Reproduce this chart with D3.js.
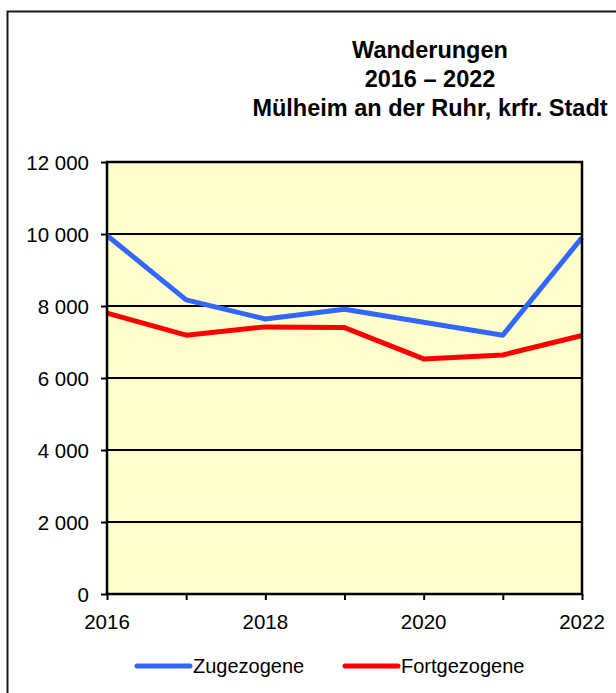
<!DOCTYPE html>
<html><head><meta charset="utf-8">
<script src="https://cdn.jsdelivr.net/npm/d3@7"></script>
<style>
html,body{margin:0;padding:0;background:#fff;}
svg{display:block;}
text{font-family:"Liberation Sans",Arial,sans-serif;fill:#000;}
</style></head>
<body>
<svg id="chart" width="616" height="693"></svg>
<script>
const years = [2016, 2017, 2018, 2019, 2020, 2021, 2022];
const zugezogene = [9960, 8170, 7640, 7910, 7550, 7190, 9900];
const fortgezogene = [7800, 7190, 7420, 7400, 6530, 6640, 7180];
const seriesNames = ["Zugezogene", "Fortgezogene"];
const seriesColors = ["#3366ff", "#ff0000"];
const yTicks = [0, 2000, 4000, 6000, 8000, 10000, 12000];
const xLabelYears = [2016, 2018, 2020, 2022];
const titleLines = ["Wanderungen", "2016 \u2013 2022", "Mülheim an der Ruhr, krfr. Stadt"];

const svg = d3.select("#chart");
const m = {left: 107, right: 582, top: 162, bottom: 594};

const x = d3.scaleLinear().domain([2016, 2022]).range([m.left, m.right]);
const y = d3.scaleLinear().domain([0, 12000]).range([m.bottom, m.top]);

function stext(g, tx, ty, str, anchor, size, weight) {
  return g.append("text")
    .attr("x", tx).attr("y", ty)
    .attr("text-anchor", anchor)
    .style("font-size", size + "px")
    .style("font-weight", weight || "normal")
    .text(str);
}

// outer frame
svg.append("rect").attr("x", 7.5).attr("y", 11.5).attr("width", 640).attr("height", 720)
  .attr("fill", "none").attr("stroke", "#1a1a1a").attr("stroke-width", 2);

// title
titleLines.forEach((t, i) => stext(svg, 430, 58 + i * 29, t, "middle", 23.5, "bold"));

// plot background
svg.append("rect").attr("x", m.left).attr("y", m.top)
  .attr("width", m.right - m.left).attr("height", m.bottom - m.top)
  .attr("fill", "#ffffcc");

// grid lines
svg.append("g").selectAll("line").data(yTicks.filter(d => d > 0 && d < 12000)).join("line")
  .attr("x1", m.left).attr("x2", m.right)
  .attr("y1", d => y(d)).attr("y2", d => y(d))
  .attr("stroke", "#000").attr("stroke-width", 2);

// series lines
const line = d3.line().x((d, i) => x(years[i])).y(d => y(d));
[zugezogene, fortgezogene].forEach((s, k) => {
  svg.append("path").datum(s).attr("d", line)
    .attr("fill", "none").attr("stroke", seriesColors[k]).attr("stroke-width", 5)
    .attr("stroke-linejoin", "round");
});

// plot border
svg.append("rect").attr("x", m.left).attr("y", m.top)
  .attr("width", m.right - m.left).attr("height", m.bottom - m.top)
  .attr("fill", "none").attr("stroke", "#000").attr("stroke-width", 2.5);

// y axis
const yAxis = d3.axisLeft(y).tickValues(yTicks).tickSize(6).tickFormat("");
const gy = svg.append("g").attr("transform", `translate(${m.left},0)`).call(yAxis);
gy.select(".domain").remove();
gy.selectAll(".tick line").attr("stroke", "#000").attr("stroke-width", 2);
yTicks.forEach(v => stext(svg, 89, y(v) + 7.5, d3.format(",")(v).replace(/,/g, " "), "end", 20.5));

// x axis
const xAxis = d3.axisBottom(x).tickValues(years).tickSize(6).tickFormat("");
const gx = svg.append("g").attr("transform", `translate(0,${m.bottom})`).call(xAxis);
gx.select(".domain").remove();
gx.selectAll(".tick line").attr("stroke", "#000").attr("stroke-width", 2);
xLabelYears.forEach(v => stext(svg, x(v), 629, String(v), "middle", 20.5));

// legend
const legendX = [137, 345];
seriesNames.forEach((n, k) => {
  svg.append("line").attr("x1", legendX[k]).attr("x2", legendX[k] + 53)
    .attr("y1", 666).attr("y2", 666)
    .attr("stroke", seriesColors[k]).attr("stroke-width", 5).attr("stroke-linecap", "round");
  stext(svg, legendX[k] + 56, 673, n, "start", 20);
});
</script>
</body></html>
